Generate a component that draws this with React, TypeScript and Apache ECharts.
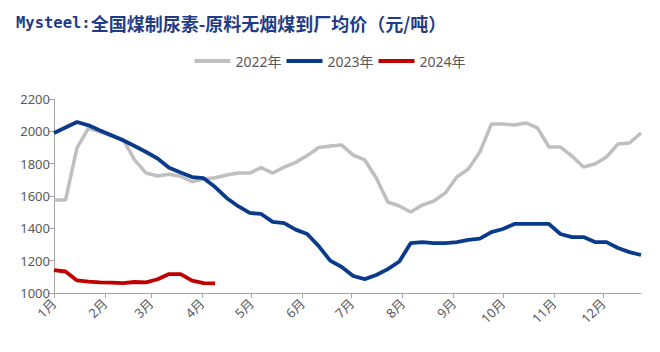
import React, { useEffect, useRef } from "react";
import * as echarts from "echarts";

const weekDates = [
  "01-01", "01-08", "01-15", "01-22", "01-29",
  "02-05", "02-12", "02-19", "02-26",
  "03-05", "03-12", "03-19", "03-26",
  "04-02", "04-09", "04-16", "04-23", "04-30",
  "05-07", "05-14", "05-21", "05-28",
  "06-04", "06-11", "06-18", "06-25",
  "07-02", "07-09", "07-16", "07-23", "07-30",
  "08-06", "08-13", "08-20", "08-27",
  "09-03", "09-10", "09-17", "09-24",
  "10-01", "10-08", "10-15", "10-22", "10-29",
  "11-05", "11-12", "11-19", "11-26",
  "12-03", "12-10", "12-17", "12-24",
];

const seriesNames = ["2022年", "2023年", "2024年"];

const values2022 = [
  1575, 1575, 1897, 2020, 1995, 1972, 1950, 1823, 1742, 1724,
  1735, 1722, 1688, 1705, 1713, 1730, 1742, 1742, 1775, 1742,
  1779, 1808, 1850, 1900, 1909, 1915, 1853, 1823, 1711, 1563,
  1538, 1501, 1544, 1569, 1619, 1717, 1767, 1872, 2045, 2045,
  2039, 2052, 2021, 1903, 1903, 1847, 1779, 1798, 1841, 1922,
  1928, 1990,
];

const values2023 = [
  1990, 2024, 2058, 2037, 2005, 1975, 1945, 1909, 1872, 1832,
  1775, 1745, 1717, 1710, 1655, 1588, 1537, 1495, 1489, 1440,
  1432, 1392, 1365, 1290, 1200, 1161, 1105, 1086, 1111, 1148,
  1195, 1309, 1315, 1309, 1309, 1315, 1328, 1336, 1377, 1396,
  1427, 1427, 1428, 1427, 1365, 1346, 1346, 1315, 1315, 1278,
  1253, 1235,
];

const values2024 = [
  1142, 1133, 1078, 1070, 1066, 1064, 1061, 1068, 1066, 1085,
  1117, 1117, 1076, 1061, 1060,
];

const yMin = 1000;
const yMax = 2200;
const yStep = 200;

const baseYear = "2022";
const colors = ["#BFBFBF", "#0A3A8A", "#C00000"];

function toPairs(vals: number[]) {
  return vals.map((v, i) => [`${baseYear}-${weekDates[i]}`, v]);
}

export default function App() {
  const ref = useRef<HTMLDivElement>(null);

  useEffect(() => {
    document.body.style.margin = "0";
    if (!ref.current) return;
    const chart = echarts.init(ref.current, undefined, { renderer: "svg" });
    const font = "'Noto Sans', 'Noto Sans CJK SC', sans-serif";
    chart.setOption({
      animation: false,
      textStyle: { fontFamily: font },
      title: {
        text: "{a|Mysteel:}{b|全国煤制尿素-原料无烟煤到厂均价（元/吨）}",
        left: 11,
        top: 9,
        textStyle: {
          rich: {
            a: {
              fontFamily: "'DejaVu Sans Mono', monospace",
              fontSize: 15.5,
              fontWeight: "bold",
              color: "#1F3C88",
            },
            b: {
              fontFamily: "'Noto Sans CJK SC', sans-serif",
              fontSize: 18,
              fontWeight: "bold",
              color: "#1F3C88",
            },
          },
        },
      },
      legend: {
        top: 49,
        left: "center",
        icon: "rect",
        itemWidth: 36,
        itemHeight: 4,
        itemGap: 5,
        textStyle: { fontSize: 14, color: "#595959", fontFamily: font },
        data: seriesNames,
      },
      grid: { left: 54, right: 19, top: 99, bottom: 59, containLabel: false },
      xAxis: {
        type: "time",
        min: `${baseYear}-01-01`,
        max: `${baseYear}-${weekDates[weekDates.length - 1]}`,
        splitNumber: 12,
        minInterval: 28 * 86400000,
        maxInterval: 31 * 86400000,
        axisLine: { lineStyle: { color: "#A6A6A6", width: 1 } },
        axisTick: { show: true, length: 5, lineStyle: { color: "#A6A6A6" } },
        splitLine: { show: false },
        axisLabel: {
          rotate: 45,
          fontSize: 13,
          color: "#595959",
          margin: 8,
          showMaxLabel: false,
          formatter: (v: number) => `${new Date(v).getMonth() + 1}月`,
        },
      },
      yAxis: {
        type: "value",
        min: yMin,
        max: yMax,
        interval: yStep,
        axisLine: { show: true, lineStyle: { color: "#A6A6A6", width: 1 } },
        axisTick: { show: true, length: 5, lineStyle: { color: "#A6A6A6" } },
        splitLine: { show: false },
        axisLabel: {
          fontSize: 13,
          color: "#595959",
          margin: 4,
          formatter: (v: number) => String(v),
        },
      },
      series: [values2022, values2023, values2024].map((vals, k) => ({
        name: seriesNames[k],
        type: "line",
        data: toPairs(vals),
        symbol: "none",
        color: colors[k],
        lineStyle: { width: k === 0 ? 3.5 : 3.8, color: colors[k] },
        z: k === 0 ? 1 : k + 1,
      })),
    });
    return () => chart.dispose();
  }, []);

  return <div ref={ref} style={{ width: 660, height: 352 }} />;
}
